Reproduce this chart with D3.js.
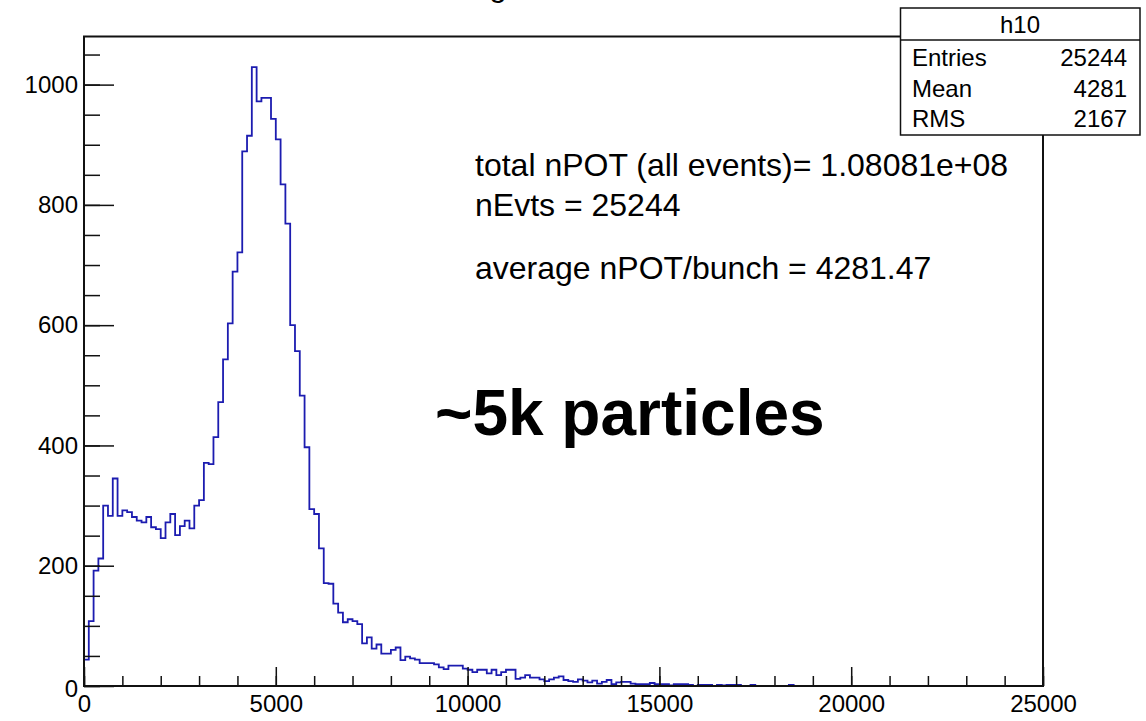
<!DOCTYPE html>
<html>
<head>
<meta charset="utf-8">
<script src="https://cdn.jsdelivr.net/npm/d3@7"></script>
<style>
  body { margin: 0; background: #fff; }
  svg { display: block; }
  text { font-family: "Liberation Sans", Arial, Helvetica, sans-serif; fill: #000; }
</style>
</head>
<body>
<svg id="chart" width="1146" height="721"></svg>
<script>
// histogram h10: 200 bins of 125 from 0 to 25000
var binWidth = 125;
var counts = [
  44,108,192,212,300,283,345,283,292,289,
  281,275,272,281,264,261,246,272,286,251,
  266,275,262,300,309,371,369,414,472,543,
  603,689,721,889,915,1029,972,978,978,943,
  909,834,769,600,557,483,397,294,286,229,
  171,170,137,122,106,111,108,103,71,81,
  62,69,54,54,60,64,43,49,46,44,
  38,38,38,36,31,28,34,34,34,29,
  27,23,27,27,21,27,18,23,27,27,
  12,14,18,14,14,11,8,11,14,16,
  10,8,7,11,9,6,9,4,7,10,
  3,6,7,7,4,3,3,3,5,3,
  3,3,1,3,3,3,2,0,2,2,
  2,0,2,1,2,2,2,0,0,2,
  0,0,0,0,0,0,0,2,0,0,
  0,0,0,0,0,0,0,0,0,0,
  0,0,0,0,0,0,0,0,0,0,
  0,0,0,0,0,0,0,0,0,0,
  0,0,0,0,0,0,0,0,0,0,
  0,0,0,0,0,0,0,0,0,0
];
var xMajor = [0, 5000, 10000, 15000, 20000, 25000];
var xMinor = d3.range(0, 25001, 1000);
var yMajor = [0, 200, 400, 600, 800, 1000];
var yMinor = d3.range(0, 1051, 50);
var statsTitle = "h10";
var statsNames = ["Entries", "Mean", "RMS"];
var statsValues = ["25244", "4281", "2167"];
var infoLines = ["total nPOT (all events)= 1.08081e+08", "nEvts = 25244", "average nPOT/bunch = 4281.47"];
var bigNote = "~5k particles";

(function() {
  var svg = d3.select("#chart");
  var fLeft = 84, fRight = 1043, fTop = 36.5, fBottom = 686;

  var x = d3.scaleLinear().domain([0, 25000]).range([fLeft, fRight]);
  var y = d3.scaleLinear().domain([0, 1080]).range([fBottom, fTop]);

  // title, mostly off the canvas
  svg.append("text")
    .attr("x", 489)
    .attr("y", -4)
    .style("font-size", "32px")
    .text("g");

  // step outline
  var pts = [[0, 0]];
  counts.forEach(function(c, i) {
    pts.push([i * binWidth, c]);
    pts.push([(i + 1) * binWidth, c]);
  });
  pts.push([counts.length * binWidth, 0]);

  var line = d3.line()
    .x(function(d) { return x(d[0]); })
    .y(function(d) { return y(d[1]); });

  svg.append("path")
    .datum(pts)
    .attr("d", line)
    .attr("fill", "none")
    .attr("stroke", "#1c1cb0")
    .attr("stroke-width", 1.8);

  // axes, ticks inside the frame
  svg.append("g")
    .attr("transform", "translate(" + fLeft + ",0)")
    .call(d3.axisLeft(y).tickValues(yMinor).tickSize(-16).tickFormat(""));
  var yAxis = svg.append("g")
    .attr("transform", "translate(" + fLeft + ",0)")
    .call(d3.axisLeft(y).tickValues(yMajor).tickSize(-30).tickPadding(6).tickFormat(d3.format("d")));
  yAxis.selectAll("text").filter(function(d) { return d === 0; }).attr("dy", "0.45em");

  svg.append("g")
    .attr("transform", "translate(0," + fBottom + ")")
    .call(d3.axisBottom(x).tickValues(xMinor).tickSize(-10).tickFormat(""));
  svg.append("g")
    .attr("transform", "translate(0," + fBottom + ")")
    .call(d3.axisBottom(x).tickValues(xMajor).tickSize(-19).tickPadding(9).tickFormat(d3.format("d")));

  svg.selectAll(".domain").remove();
  svg.selectAll(".tick line").attr("stroke", "#111").attr("stroke-width", 1.5);
  svg.selectAll(".tick text")
    .style("font-size", "24px")
    .style("font-family", "Liberation Sans, Arial, sans-serif")
    .attr("fill", "#000");

  // frame
  svg.append("rect")
    .attr("x", fLeft)
    .attr("y", fTop)
    .attr("width", fRight - fLeft)
    .attr("height", fBottom - fTop)
    .attr("fill", "none")
    .attr("stroke", "#111")
    .attr("stroke-width", 2);

  // stats box
  var box = svg.append("g");
  box.append("rect")
    .attr("x", 900.5).attr("y", 8)
    .attr("width", 239.5).attr("height", 127)
    .attr("fill", "#fff")
    .attr("stroke", "#111")
    .attr("stroke-width", 1.5);
  box.append("line")
    .attr("x1", 900.5).attr("x2", 1140)
    .attr("y1", 40).attr("y2", 40)
    .attr("stroke", "#111")
    .attr("stroke-width", 1.5);
  box.append("text")
    .attr("x", 1020).attr("y", 33)
    .attr("text-anchor", "middle")
    .style("font-size", "24px")
    .text(statsTitle);
  statsNames.forEach(function(n, i) {
    box.append("text")
      .attr("x", 912).attr("y", 66 + i * 30.5)
      .style("font-size", "24px")
      .text(n);
    box.append("text")
      .attr("x", 1127).attr("y", 66 + i * 30.5)
      .attr("text-anchor", "end")
      .style("font-size", "24px")
      .text(statsValues[i]);
  });

  // annotations
  var infoY = [176, 216, 279];
  infoLines.forEach(function(t, i) {
    svg.append("text")
      .attr("x", 475).attr("y", infoY[i])
      .style("font-size", "32px")
      .text(t);
  });
  svg.append("text")
    .attr("x", 435).attr("y", 435)
    .style("font-size", "64px")
    .style("font-weight", "bold")
    .text(bigNote);
})();
</script>
</body>
</html>
